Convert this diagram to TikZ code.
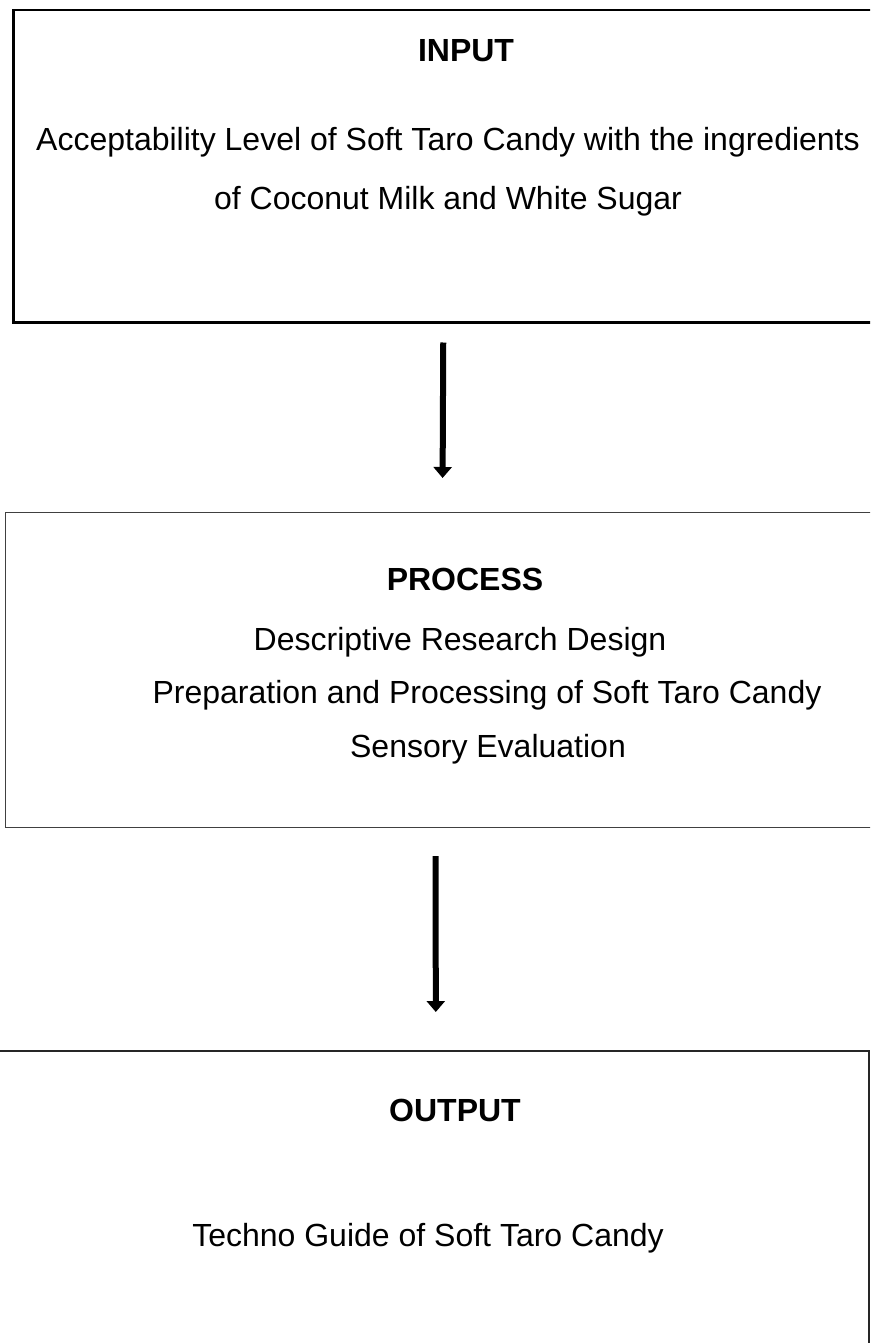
\documentclass[tikz,border=0pt]{standalone}
\usepackage{fontspec}
\setmainfont{Liberation Sans}
\usetikzlibrary{arrows.meta,positioning,calc}

\begin{document}
\begin{tikzpicture}[x=1pt,y=-1pt]
	\tikzset{
	  basic/.style  = {font=\fontsize{32}{38}\selectfont, anchor=base, inner sep=0pt},
	  title/.style  = {basic, font=\fontsize{32}{38}\selectfont\bfseries},
	  frame/.style  = {draw, rectangle, anchor=north west, inner sep=0pt},
	  flow/.style   = {line width=6pt, -{Triangle[width=18pt,length=11pt]}}
	}
	\useasboundingbox (0,0) rectangle (870,1343);
	\clip (0,0) rectangle (870,1343);

	\node[frame, line width=2.5pt, minimum width=872pt, minimum height=312pt] (input) at (12,9) {};
	\node[frame, line width=1.2pt, draw=black!75, minimum width=880pt, minimum height=315pt] (process) at (5,512) {};
	\node[frame, line width=1.6pt, draw=black!85, minimum width=878pt, minimum height=320pt] (output) at (-10,1050) {};

	% The texts inside the three boxes
	\node[title] (intitle) at (466,62) {INPUT};
	\node[basic] (in1) at (448,151) {Acceptability Level of Soft Taro Candy with the ingredients};
	\node[basic] (in2) at (448,210) {of Coconut Milk and White Sugar};

	\node[title] (protitle) at (465,590) {PROCESS};
	\node[basic] (pro1) at (460,650) {Descriptive Research Design};
	\node[basic] (pro2) at (487,703) {Preparation and Processing of Soft Taro Candy};
	\node[basic] (pro3) at (488,757) {Sensory Evaluation};

	\node[title] (outtitle) at (455,1121) {OUTPUT};
	\node[basic] (out1) at (428,1246) {Techno Guide of Soft Taro Candy};

	\draw[flow] ([xshift=-6pt,yshift=-19pt]input.south) -- ([xshift=-3pt,yshift=34pt]process.north);
	\draw[flow] ([xshift=-10pt,yshift=-28pt]process.south) -- ([xshift=6pt,yshift=38pt]output.north);
\end{tikzpicture}
\end{document}
